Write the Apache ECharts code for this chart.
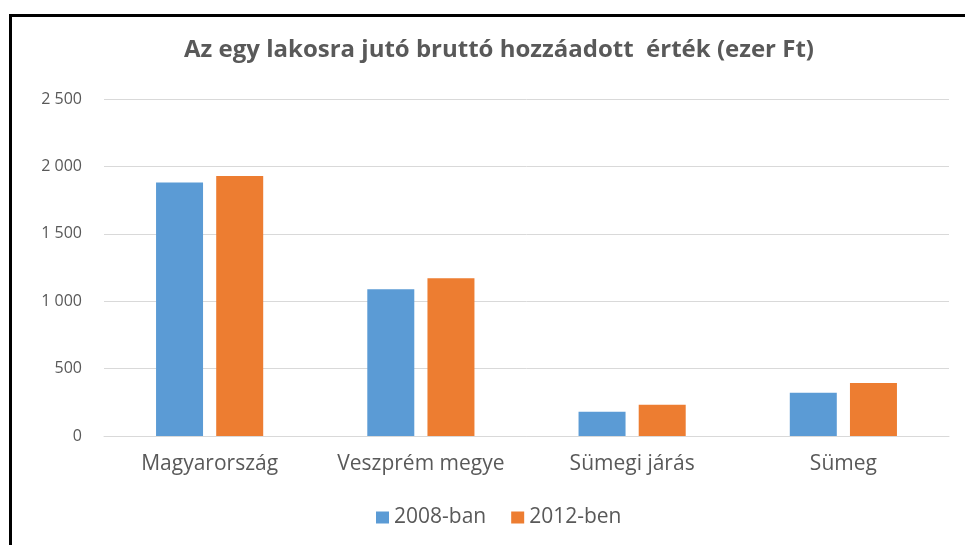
<!DOCTYPE html>
<html>
<head>
<meta charset="utf-8">
<script src="https://cdn.jsdelivr.net/npm/echarts@6/dist/echarts.min.js"></script>
<style>
  html, body { margin: 0; padding: 0; background: #fff; }
  #chart { width: 965px; height: 545px; }
</style>
</head>
<body>
<div id="chart"></div>
<script>
// Categories and values (ezer Ft per capita)
const categories = ['Magyarország', 'Veszprém megye', 'Sümegi járás', 'Sümeg'];
const seriesNames = ['2008-ban', '2012-ben'];
const values2008 = [1881, 1089, 180, 321];
const values2012 = [1928, 1170, 232, 393];
const yTicks = [0, 500, 1000, 1500, 2000, 2500];

const FONT = '"Open Sans", "Liberation Sans", sans-serif';
const TEXT = '#595959';

const chart = echarts.init(document.getElementById('chart'), null, { renderer: 'canvas' });

function thousands(v) {
  return String(v).replace(/\B(?=(\d{3})+(?!\d))/g, ' ');
}

chart.setOption({
  animation: false,
  backgroundColor: '#ffffff',
  title: {
    text: 'Az egy lakosra jutó bruttó hozzáadott  érték (ezer Ft)',
    left: 494,
    textAlign: 'center',
    top: 33,
    textStyle: { fontFamily: FONT, fontSize: 24, fontWeight: 'bold', color: TEXT }
  },
  legend: {
    data: seriesNames,
    top: 502,
    left: 371,
    itemWidth: 13,
    itemHeight: 12,
    itemGap: 25,
    icon: 'rect',
    textStyle: { fontFamily: FONT, fontSize: 21, color: TEXT }
  },
  grid: { left: 104, right: 16, top: 99, bottom: 109, containLabel: false },
  xAxis: {
    type: 'category',
    data: categories,
    axisLine: { lineStyle: { color: '#d9d9d9', width: 1 } },
    axisTick: { show: false },
    axisLabel: { fontFamily: FONT, fontSize: 21, color: TEXT, margin: 18, interval: 0 }
  },
  yAxis: {
    type: 'value',
    min: yTicks[0],
    max: yTicks[yTicks.length - 1],
    interval: 500,
    axisLine: { show: false },
    axisTick: { show: false },
    splitLine: { lineStyle: { color: '#d9d9d9', width: 1 } },
    axisLabel: { fontFamily: FONT, fontSize: 16, color: TEXT, margin: 22, formatter: thousands }
  },
  series: [
    {
      name: seriesNames[0],
      type: 'bar',
      data: values2008,
      barWidth: 47,
      barGap: '28%',
      itemStyle: { color: '#5b9bd5' }
    },
    {
      name: seriesNames[1],
      type: 'bar',
      data: values2012,
      barWidth: 47,
      barGap: '28%',
      itemStyle: { color: '#ed7d31' }
    }
  ],
  graphic: [
    {
      type: 'polyline',
      shape: { points: [[10.5, 560], [10.5, 15.5], [980, 15.5]] },
      style: { stroke: '#000000', lineWidth: 3, fill: null },
      silent: true
    }
  ]
});
</script>
</body>
</html>
